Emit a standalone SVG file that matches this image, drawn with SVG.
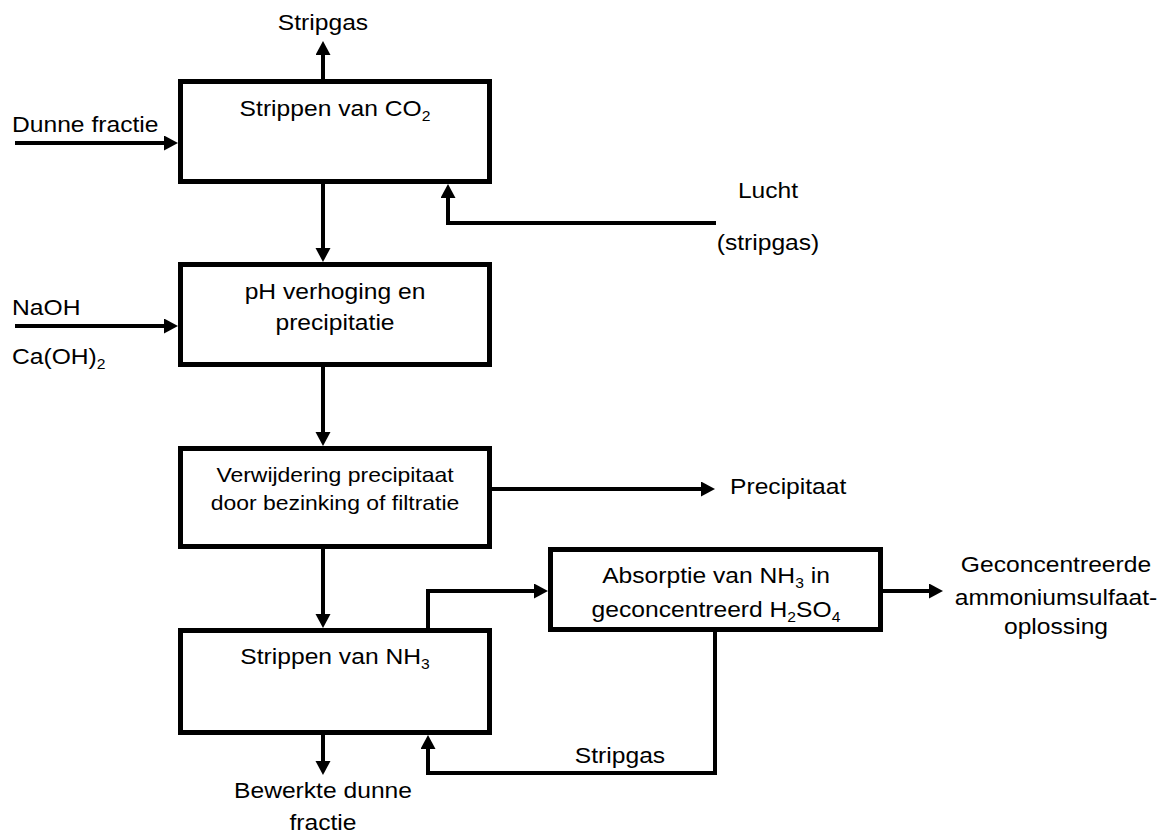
<svg xmlns="http://www.w3.org/2000/svg" width="1170" height="834" viewBox="0 0 1170 834">
  <style>
    .box { fill: #ffffff; stroke: #000000; stroke-width: 5; }
    .flow { fill: none; stroke: #000000; stroke-width: 4; stroke-linejoin: miter; marker-end: url(#head); }
    text { font-family: "Liberation Sans", Arial, sans-serif; font-size: 22px; fill: #000000; }
    .mid { text-anchor: middle; }
    .small { font-size: 20.5px; }
    .sub { font-size: 14px; }
  </style>
  <defs>
    <marker id="head" markerUnits="userSpaceOnUse" markerWidth="15" markerHeight="16" refX="0" refY="7.5" orient="auto">
      <path d="M0,0 L14,7.5 L0,15 Z" fill="#000000"/>
    </marker>
  </defs>
  <rect width="1170" height="834" fill="#ffffff"/>

  <!-- connectors -->
  <g id="connectors">
    <path class="flow" d="M323,80 V55"/>
    <path class="flow" d="M15,143 H164"/>
    <path class="flow" d="M323,184 V248"/>
    <path class="flow" d="M716,223 H448 V198"/>
    <path class="flow" d="M15,326 H164"/>
    <path class="flow" d="M323,367 V432"/>
    <path class="flow" d="M492,489 H701"/>
    <path class="flow" d="M323,549 V614"/>
    <path class="flow" d="M428,628 V591 H534"/>
    <path class="flow" d="M883,591 H929"/>
    <path class="flow" d="M323,735 V761"/>
    <path class="flow" d="M715,632 V773 H428 V749"/>
  </g>

  <!-- process steps -->
  <g id="strip-co2">
    <rect class="box" x="180.5" y="81.5" width="309" height="100"/>
    <text class="mid" transform="translate(335,116) scale(1.12,1)">Strippen van CO<tspan class="sub" dy="5">2</tspan></text>
  </g>
  <g id="ph-raise">
    <rect class="box" x="180.5" y="264.5" width="309" height="100"/>
    <text class="mid" transform="translate(335,299) scale(1.12,1)">pH verhoging en</text>
    <text class="mid" transform="translate(335,330) scale(1.12,1)">precipitatie</text>
  </g>
  <g id="remove-precipitate">
    <rect class="box" x="180.5" y="448.5" width="309" height="98"/>
    <text class="mid small" transform="translate(335,482) scale(1.12,1)">Verwijdering precipitaat</text>
    <text class="mid small" transform="translate(335,510) scale(1.12,1)">door bezinking of filtratie</text>
  </g>
  <g id="strip-nh3">
    <rect class="box" x="180.5" y="630.5" width="309" height="102"/>
    <text class="mid" transform="translate(335,664) scale(1.12,1)">Strippen van NH<tspan class="sub" dy="5">3</tspan></text>
  </g>
  <g id="absorption">
    <rect class="box" x="550.5" y="549.5" width="330" height="80"/>
    <text class="mid" transform="translate(716,583) scale(1.12,1)">Absorptie van NH<tspan class="sub" dy="5">3</tspan><tspan dy="-5"> in</tspan></text>
    <text class="mid" transform="translate(716,617) scale(1.12,1)">geconcentreerd H<tspan class="sub" dy="5">2</tspan><tspan dy="-5">SO</tspan><tspan class="sub" dy="5">4</tspan></text>
  </g>

  <!-- stream labels -->
  <g id="labels">
    <text class="mid" transform="translate(323,30) scale(1.12,1)">Stripgas</text>
    <text transform="translate(12,132) scale(1.12,1)">Dunne fractie</text>
    <text class="mid" transform="translate(768,198) scale(1.12,1)">Lucht</text>
    <text class="mid" transform="translate(768,250) scale(1.12,1)">(stripgas)</text>
    <text transform="translate(12,315) scale(1.12,1)">NaOH</text>
    <text transform="translate(12,364) scale(1.12,1)">Ca(OH)<tspan class="sub" dy="5">2</tspan></text>
    <text transform="translate(730,494) scale(1.12,1)">Precipitaat</text>
    <text class="mid" transform="translate(1056,572) scale(1.12,1)">Geconcentreerde</text>
    <text class="mid" transform="translate(1056,605) scale(1.12,1)">ammoniumsulfaat-</text>
    <text class="mid" transform="translate(1056,634) scale(1.12,1)">oplossing</text>
    <text class="mid" transform="translate(620,763) scale(1.12,1)">Stripgas</text>
    <text class="mid" transform="translate(323,798) scale(1.12,1)">Bewerkte dunne</text>
    <text class="mid" transform="translate(323,830) scale(1.12,1)">fractie</text>
  </g>
</svg>
